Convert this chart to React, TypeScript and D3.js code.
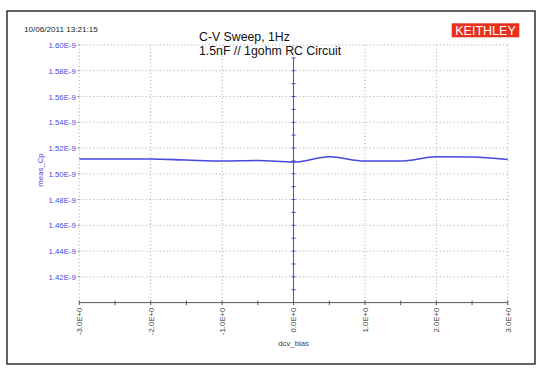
import React from "react";
import * as d3 from "d3";

// sweep data
const biasValues = [-3, -2.5, -2, -1.5, -1, -0.5, 0, 0.5, 1, 1.5, 2, 2.5, 3];
const cpValues = [
	1.5115, 1.5115, 1.5115, 1.5107, 1.5099, 1.5103, 1.5091, 1.5132, 1.5099,
	1.5099, 1.5132, 1.513, 1.5111,
];
const yTicks = [1.42, 1.44, 1.46, 1.48, 1.5, 1.52, 1.54, 1.56, 1.58, 1.6];
const xTicks = [-3, -2, -1, 0, 1, 2, 3];
const xMinorTicks = [-3, -2.5, -2, -1.5, -1, -0.5, 0, 0.5, 1, 1.5, 2, 2.5, 3];
const cursorTicks = d3.range(1.41, 1.595, 0.01);

const titleLines = ["C-V Sweep, 1Hz", "1.5nF // 1gohm RC Circuit"];
const timestamp = "10/06/2011 13:21:15";

const W = 544;
const H = 373;
const plot = { left: 79.3, right: 507.8, top: 45, bottom: 302.6 };

const fmtY = (d: number) => d.toFixed(2) + "E-9";
const fmtX = (d: number) => (d === 0 ? "0.0E+0" : d.toFixed(1) + "E+0");

const App = () => {
	const x = d3.scaleLinear().domain([-3, 3]).range([plot.left, plot.right]);
	const y = d3.scaleLinear().domain([1.4, 1.6]).range([plot.bottom, plot.top]);

	const line = d3
		.line<number>()
		.x((d, i) => x(biasValues[i]))
		.y((d) => y(d))
		.curve(d3.curveMonotoneX);

	const blue = "#4848e0";
	const gridColor = "#a8a8a8";
	const font = "Arial, 'Liberation Sans', sans-serif";

	return (
		<svg
			width={W}
			height={H}
			style={{ position: "absolute", left: 0, top: 0, background: "#fff" }}
			fontFamily={font}
		>
			{/* outer frame */}
			<rect x={7} y={11} width={528} height={353} fill="none" stroke="#222" strokeWidth={1.4} />

			<text x={24} y={32} fontSize={8.1} fill="#222">
				{timestamp}
			</text>

			{/* logo */}
			<rect x={451.7} y={23.3} width={67.6} height={14} fill="#e8301c" />
			<text x={485.5} y={35} fontSize={12.5} fill="#fff" textAnchor="middle">
				KEITHLEY
			</text>

			{/* horizontal grid */}
			{yTicks.map((t) => (
				<line
					key={"gy" + t}
					x1={plot.left}
					x2={plot.right}
					y1={y(t)}
					y2={y(t)}
					stroke={gridColor}
					strokeWidth={1}
					strokeDasharray="1,2.5"
				/>
			))}
			{/* vertical grid */}
			{xTicks.map((t) => (
				<line
					key={"gx" + t}
					x1={x(t)}
					x2={x(t)}
					y1={plot.top}
					y2={plot.bottom}
					stroke={gridColor}
					strokeWidth={1}
					strokeDasharray="1,2.5"
				/>
			))}

			{/* y ticks and labels */}
			{yTicks.map((t) => (
				<g key={"ty" + t}>
					<line x1={plot.left - 2} x2={plot.left + 1} y1={y(t)} y2={y(t)} stroke={gridColor} />
					<text x={plot.left - 3.5} y={y(t) + 3} fontSize={7.8} fill={blue} textAnchor="end">
						{fmtY(t)}
					</text>
				</g>
			))}
			<text
				transform={`translate(43,170) rotate(-90)`}
				fontSize={7.8}
				fill={blue}
				textAnchor="middle"
			>
				meas_Cp
			</text>

			{/* x axis */}
			<line x1={plot.left} x2={plot.right} y1={plot.bottom} y2={plot.bottom} stroke="#555" strokeWidth={1} />
			{xMinorTicks.map((t) => (
				<line
					key={"mx" + t}
					x1={x(t)}
					x2={x(t)}
					y1={plot.bottom - 2}
					y2={plot.bottom + 2.5}
					stroke="#555"
				/>
			))}
			{xTicks.map((t) => (
				<text
					key={"lx" + t}
					transform={`translate(${x(t) + 2.8},${plot.bottom + 5}) rotate(-90)`}
					fontSize={7.8}
					fill="#444"
					textAnchor="end"
				>
					{fmtX(t)}
				</text>
			))}
			<text x={x(0)} y={346} fontSize={7.8} fill="#444" textAnchor="middle">
				dcv_bias
			</text>

			{/* cursor at 0 V */}
			<line x1={x(0)} x2={x(0)} y1={y(1.59)} y2={plot.bottom} stroke={blue} strokeWidth={1} />
			{cursorTicks.map((t) => (
				<line
					key={"ct" + t.toFixed(2)}
					x1={x(0) - 2}
					x2={x(0) + 2}
					y1={y(t)}
					y2={y(t)}
					stroke={blue}
					strokeWidth={1}
				/>
			))}

			{/* data */}
			<path d={line(cpValues) ?? ""} fill="none" stroke={blue} strokeWidth={1.6} />

			{/* title */}
			{titleLines.map((s, i) => (
				<text key={s} x={199} y={41 + i * 14} fontSize={12.3} fill="#111">
					{s}
				</text>
			))}
		</svg>
	);
};

export default App;
